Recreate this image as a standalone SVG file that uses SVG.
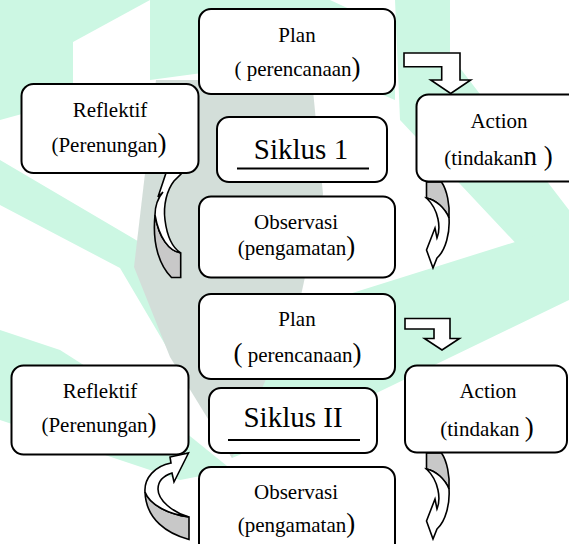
<svg xmlns="http://www.w3.org/2000/svg" width="569" height="544" viewBox="0 0 569 544">
<style>
.box{fill:#fff;stroke:#000;stroke-width:2}
text{font-family:'Liberation Serif','Times New Roman',Tinos,'DejaVu Serif',serif;fill:#000;text-anchor:middle}
.t{font-size:21px}
.big{font-size:27px}
.sik{font-size:29px}
.ul{stroke:#000;stroke-width:2}
.wa{fill:#fff;stroke:#000;stroke-width:1.6;stroke-linejoin:miter}
.ga{fill:#c8c8c8;stroke:#000;stroke-width:1.6}
.mint{fill:#ccf7e3}
.grey{fill:#d3ded9}
</style>
<rect width="569" height="544" fill="#fff"/>
<g id="watermark">
<polygon class="mint" points="10,0 150,0 73,42 73,100 0,120 0,0"/>
<polygon class="mint" points="150,0 330,0 395,30 395,100 300,60 150,80"/>
<polygon class="mint" points="395,0 450,0 450,55 569,210 569,300 400,120"/>
<polygon class="mint" points="0,205 120,268 232,458 300,430 569,300 569,225 330,300 240,330 170,260 0,160"/>
<polygon class="mint" points="0,330 60,350 170,420 232,470 180,480 0,420"/>
<polygon class="grey" points="156,80 312,80 323,194 300,300 232,458 170,357 134,267"/>
</g>
<g id="connectors">
<polygon class="wa" points="404,53 460,53 460,80 470.7,80 450.7,93.5 430.7,80 441.7,80 441.7,66.7 404,66.7"/>
<polygon class="wa" points="405,318.5 450,318.5 450,338.5 459.5,338.5 442,350 424.5,338.5 434,338.5 434,329 405,329"/>
<g id="arrow-act1-obs1">
<path class="ga" d="M426.5,182 L441.5,182 C447,190 450,205 449,218 C445,208 436,200 426.5,198 Z"/>
<path class="wa" d="M426.5,198 C436,200 445,208 449,218 C450,232 446,250 437,258 L433,268 L426.5,250 L435,228 L437,238 C441,228 439,210 426.5,198 Z"/>
</g>
<g id="arrow-act2-obs2" transform="translate(0,271)">
<path class="ga" d="M426.5,182 L441.5,182 C447,190 450,205 449,218 C445,208 436,200 426.5,198 Z"/>
<path class="wa" d="M426.5,198 C436,200 445,208 449,218 C450,232 446,250 437,258 L433,268 L426.5,250 L435,228 L437,238 C441,228 439,210 426.5,198 Z"/>
</g>
<g id="arrow-obs1-ref1">
<path class="ga" d="M180.7,253 L180.7,277.5 L171.5,277.5 C160,266 152,245 155,215 C159,238 169,251 180.7,253 Z"/>
<path class="wa" d="M180.7,253 C169,251 159,238 155,215 C155,206 158,198 163,192 L158,197 L171.5,156.5 L181,174 L174,181 C167,190 163,205 165,220 C167,236 173,248 180.7,253 Z"/>
</g>
<g id="arrow-obs2-ref2">
<path class="ga" d="M189,517 L189,539.5 C168,534 146,520 145,492 C150,505 168,514 189,517 Z"/>
<path class="wa" d="M189,517 C168,514 150,505 145,492 C144,478 155,466 171,463 L170,457 L188.5,453 L174,482 L172,473 C163,476 158,482 158,489 C158,500 172,512 189,517 Z"/>
</g>
</g>
<g id="plan1">
<rect class="box" x="199" y="9" width="196" height="85" rx="12"/>
<text class="t" x="297" y="42">Plan</text>
<text class="t" x="297.5" y="76">( perencanaan<tspan class="big">)</tspan></text>
</g>
<g id="reflektif1">
<rect class="box" x="21.5" y="84" width="177" height="89" rx="12"/>
<text class="t" x="110" y="117">Reflektif</text>
<text class="t" x="109" y="152">(Perenungan<tspan class="big">)</tspan></text>
</g>
<g id="siklus1">
<rect class="box" x="217" y="117" width="170" height="65" rx="12"/>
<text class="sik" x="301" y="159">Siklus 1</text>
<line class="ul" x1="237" y1="168.5" x2="369" y2="168.5"/>
</g>
<g id="action1">
<rect class="box" x="416.5" y="94.5" width="170" height="87" rx="12"/>
<text class="t" x="499" y="127.5">Action</text>
<text class="t" x="498.5" y="165">(tindakan<tspan class="big">n )</tspan></text>
</g>
<g id="observasi1">
<rect class="box" x="199" y="196.5" width="196" height="81" rx="12"/>
<text class="t" x="296" y="229">Observasi</text>
<text class="t" x="296.5" y="255">(pengamatan<tspan class="big">)</tspan></text>
</g>
<g id="plan2">
<rect class="box" x="199" y="294" width="196" height="85" rx="12"/>
<text class="t" x="297" y="326">Plan</text>
<text class="t" x="297.5" y="361.5"><tspan class="big">(</tspan> perencanaan<tspan class="big">)</tspan></text>
</g>
<g id="reflektif2">
<rect class="box" x="11.5" y="365.5" width="177" height="89" rx="12"/>
<text class="t" x="100" y="397.5">Reflektif</text>
<text class="t" x="99" y="432">(Perenungan<tspan class="big">)</tspan></text>
</g>
<g id="siklus2">
<rect class="box" x="209" y="388" width="168" height="65" rx="12"/>
<text class="sik" x="293" y="427">Siklus II</text>
<line class="ul" x1="228" y1="440" x2="360" y2="440"/>
</g>
<g id="action2">
<rect class="box" x="405" y="365.5" width="162" height="87" rx="12"/>
<text class="t" x="488" y="397.5">Action</text>
<text class="t" x="487" y="436">(tindakan <tspan class="big">)</tspan></text>
</g>
<g id="observasi2">
<rect class="box" x="199" y="467" width="196" height="90" rx="12"/>
<text class="t" x="296" y="499">Observasi</text>
<text class="t" x="296.5" y="531.5">(pengamatan<tspan class="big">)</tspan></text>
</g>
</svg>
